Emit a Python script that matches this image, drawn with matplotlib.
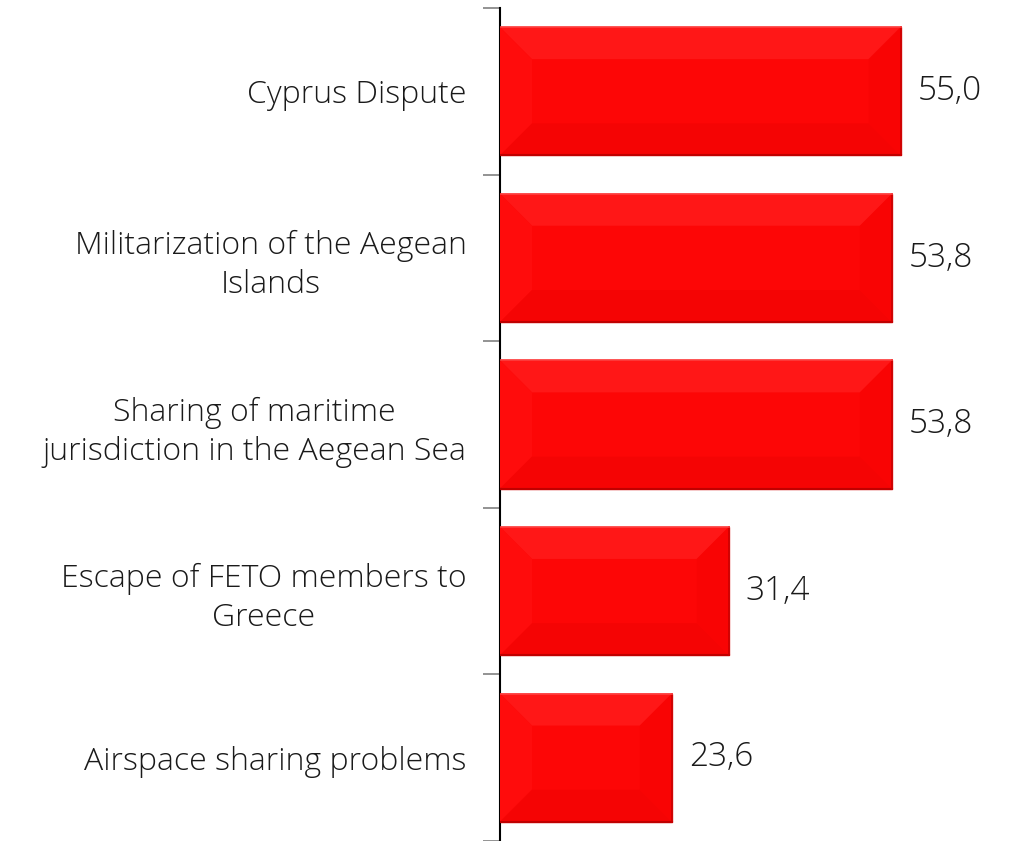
import numpy as np
import matplotlib
matplotlib.use("Agg")
import matplotlib.pyplot as plt
from matplotlib.patches import Polygon

categories = [
    "Cyprus Dispute",
    "Militarization of the Aegean\nIslands",
    "Sharing of maritime\njurisdiction in the Aegean Sea",
    "Escape of FETO members to\nGreece",
    "Airspace sharing problems",
]
values = [55.0, 53.8, 53.8, 31.4, 23.6]

plt.rcParams["font.family"] = ["Open Sans", "DejaVu Sans"]

fig = plt.figure(figsize=(10.1, 8.41), dpi=100)
ax = fig.add_axes([500 / 1010, 0, 510 / 1010, 833 / 841])

y = np.arange(len(categories))
bars = ax.barh(y, values, height=0.77, color="#fd0606",
               edgecolor="#e02020", linewidth=1.0, zorder=2)

ax.set_xlim(0, 70)
ax.set_ylim(len(categories) - 0.5, -0.5)

# soft bevel: slightly lighter top/left, slightly darker bottom/right
fig.canvas.draw()
px_x = ax.transData.transform((1, 0))[0] - ax.transData.transform((0, 0))[0]
px_y = abs(ax.transData.transform((0, 1))[1] - ax.transData.transform((0, 0))[1])
bev = 32
dx, dy = bev / px_x, bev / px_y
for b in bars:
    x0, w = b.get_x(), b.get_width()
    yt, h = b.get_y(), b.get_height()
    x1 = x0 + w
    ytop, ybot = yt, yt + h  # inverted axis: yt is visual top
    faces = [
        ([(x0, ytop), (x1, ytop), (x1 - dx, ytop + dy), (x0 + dx, ytop + dy)], "#ff1717"),
        ([(x0, ytop), (x0 + dx, ytop + dy), (x0 + dx, ybot - dy), (x0, ybot)], "#ff0c0c"),
        ([(x0, ybot), (x0 + dx, ybot - dy), (x1 - dx, ybot - dy), (x1, ybot)], "#f50404"),
        ([(x1, ytop), (x1, ybot), (x1 - dx, ybot - dy), (x1 - dx, ytop + dy)], "#f90404"),
    ]
    for pts, c in faces:
        ax.add_patch(Polygon(pts, closed=True, facecolor=c, edgecolor="none", zorder=3))
    ax.plot([x0, x1], [ybot, ybot], color="#c00000", lw=1.5, zorder=4)
    ax.plot([x1, x1], [ytop, ybot], color="#cc0000", lw=1.2, zorder=4)
    ax.plot([x0, x1], [ytop, ytop], color="#ff4040", lw=1.2, zorder=4)

for b, v in zip(bars, values):
    ax.text(b.get_width() + 2.3, b.get_y() + b.get_height() / 2,
            f"{v:.1f}".replace(".", ","), va="center", ha="left",
            fontsize=24, fontweight="light", color="#1a1a1a")

ax.set_yticks(y)
ax.set_yticklabels(categories, fontsize=23, fontweight="light", color="#1a1a1a")
for t in ax.get_yticklabels():
    t.set_multialignment("center")
    t.set_linespacing(1.3)
ax.tick_params(axis="y", which="major", length=0, pad=24)
ax.set_yticks(np.arange(len(categories) + 1) - 0.5, minor=True)
ax.tick_params(axis="y", which="minor", length=12, width=1.2, color="#808080")
ax.set_xticks([])

for s in ["top", "right", "bottom"]:
    ax.spines[s].set_visible(False)
ax.spines["left"].set_linewidth(1.5)
ax.spines["left"].set_color("black")

fig.savefig("out.png", dpi=100)
